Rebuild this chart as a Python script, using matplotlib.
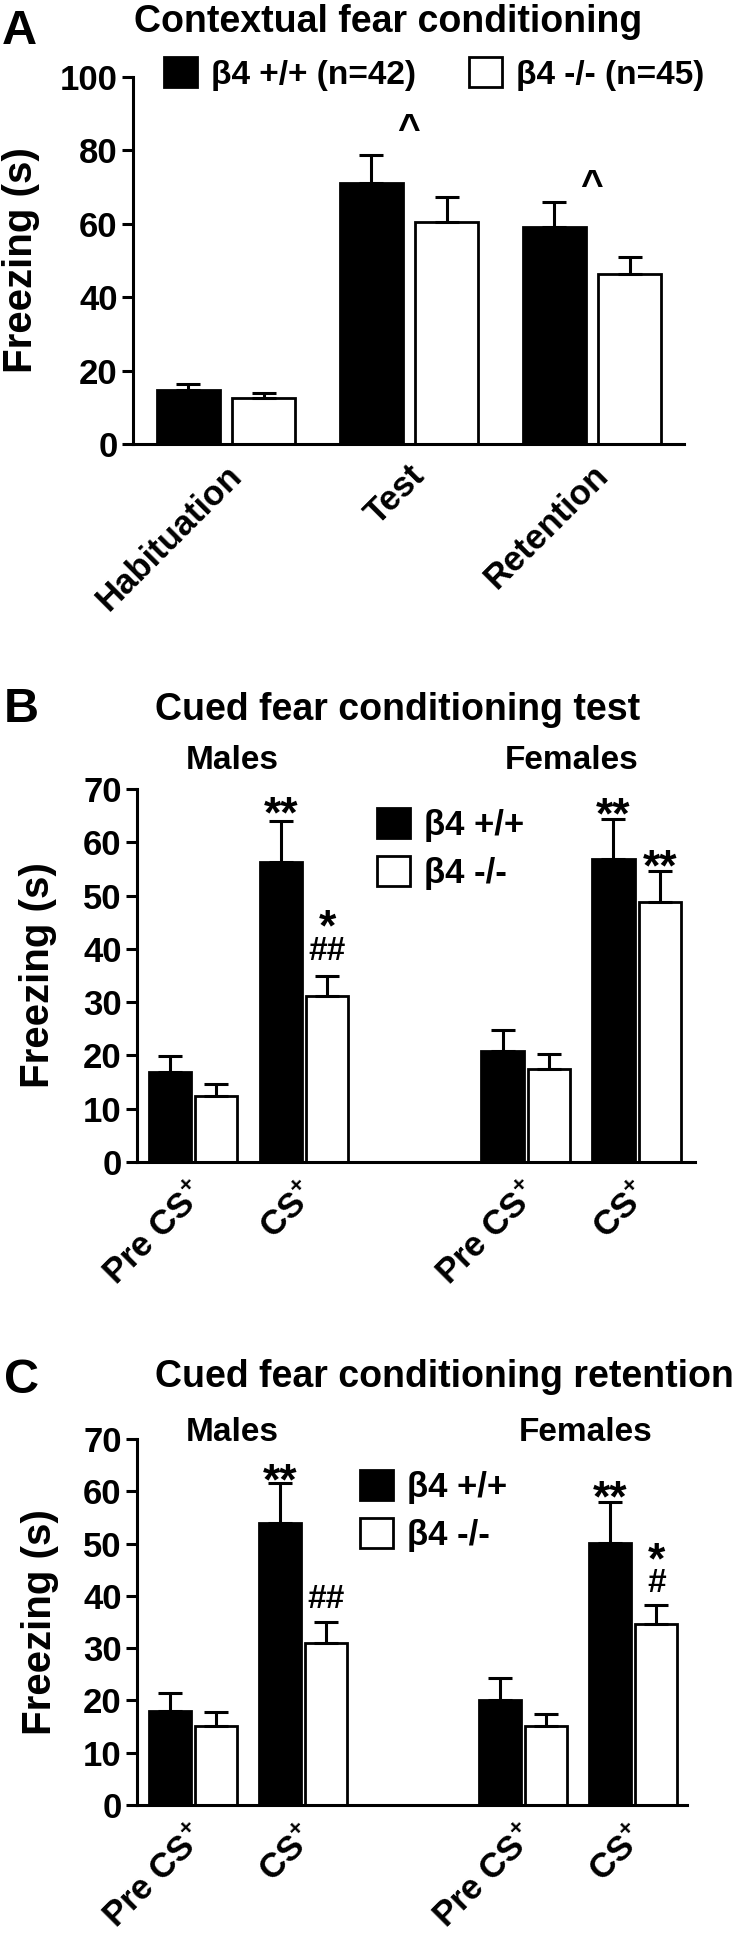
import numpy as np
import matplotlib
matplotlib.use("Agg")
import matplotlib.pyplot as plt
import matplotlib.transforms as mtransforms
from matplotlib.patches import Patch

# Arial-like bold text everywhere
plt.rcParams['font.family'] = ['Liberation Sans', 'DejaVu Sans']
plt.rcParams['font.weight'] = 'bold'
plt.rcParams['mathtext.fontset'] = 'custom'
plt.rcParams['mathtext.rm'] = 'Liberation Sans:bold'
plt.rcParams['mathtext.bf'] = 'Liberation Sans:bold'

# ---- data ----
# A: contextual fear conditioning
ctx_phases = ['Habituation', 'Test', 'Retention']
ctx_wt = [14.6, 71.1, 59.0]
ctx_wt_sem = [1.8, 7.7, 6.9]
ctx_ko = [12.5, 60.5, 46.3]
ctx_ko_sem = [1.5, 6.9, 4.7]
ctx_marks = [('^', 1, 88.0), ('^', 2, 72.8)]

# B / C: cued fear conditioning, Males (Pre CS+, CS+) and Females (Pre CS+, CS+)
cue_labels = [r'Pre CS$^{\mathbf{+}}$', r'CS$^{\mathbf{+}}$',
              r'Pre CS$^{\mathbf{+}}$', r'CS$^{\mathbf{+}}$']
cue_pos = [0, 1, 3, 4]

test_wt = [16.9, 56.3, 20.9, 56.8]
test_wt_sem = [2.9, 7.7, 3.9, 7.6]
test_ko = [12.4, 31.1, 17.4, 48.8]
test_ko_sem = [2.2, 3.8, 2.9, 5.9]
# (text, bar index, genotype, y)
test_marks = [('**', 1, 'wt', 67.7), ('*', 1, 'ko', 46.5), ('##', 1, 'ko', 40.1),
              ('**', 3, 'wt', 67.5), ('**', 3, 'ko', 57.8)]

ret_wt = [18.0, 53.9, 20.1, 50.2]
ret_wt_sem = [3.5, 7.6, 4.2, 7.7]
ret_ko = [15.1, 30.9, 15.2, 34.7]
ret_ko_sem = [2.7, 4.1, 2.2, 3.5]
ret_marks = [('**', 1, 'wt', 64.4), ('##', 1, 'ko', 40.0),
             ('**', 3, 'wt', 61.2), ('*', 3, 'ko', 49.3), ('#', 3, 'ko', 43.0)]

wt_label_a = 'β4 +/+ (n=42)'
ko_label_a = 'β4 -/- (n=45)'
wt_label = 'β4 +/+'
ko_label = 'β4 -/-'

W, H = 740, 1938
fig = plt.figure(figsize=(W / 100, H / 100), dpi=100)


def rect(l, t, r, b):
    return [l / W, 1 - b / H, (r - l) / W, (b - t) / H]


LW = 2.2


def style(ax, ymax, step):
    for s in ['top', 'right']:
        ax.spines[s].set_visible(False)
    for s in ['left', 'bottom']:
        ax.spines[s].set_linewidth(LW)
    ax.set_ylim(0, ymax)
    ax.set_yticks(np.arange(0, ymax + 1, step))
    ax.tick_params(axis='y', length=8, width=LW, pad=3, labelsize=25)
    ax.tick_params(axis='x', length=0, pad=19, labelsize=25)
    ax.set_ylabel('Freezing (s)', fontsize=29, fontweight='bold')


def shift_xlabels(ax, dx):
    off = mtransforms.ScaledTranslation(dx / 72, 0, fig.dpi_scale_trans)
    for t in ax.get_xticklabels():
        t.set_transform(t.get_transform() + off)


def mark(ax, x, y, s, size):
    # glyphs sit above the baseline: lower the baseline so the glyph is centred on y
    c = {'*': 0.585, '#': 0.35, '^': 0.52}[s[0]]
    lo, hi = ax.get_ylim()
    px_per_unit = ax.bbox.height / (hi - lo)
    base = y - c * size * fig.dpi / 72 / px_per_unit
    ax.text(x, base, s, ha='center', va='baseline', fontsize=size, fontweight='bold')


def bars(ax, pos, wt, wt_sem, ko, ko_sem, width, off):
    pos = np.asarray(pos, dtype=float)
    ekw = dict(elinewidth=LW, capthick=LW, capsize=8.5, ecolor='black')
    ax.bar(pos - off, wt, width, color='black', edgecolor='black', linewidth=2,
           yerr=[np.zeros(len(wt)), wt_sem], error_kw=ekw, zorder=2)
    ax.bar(pos + off, ko, width, color='white', edgecolor='black', linewidth=2,
           yerr=[np.zeros(len(ko)), ko_sem], error_kw=ekw, zorder=2)


def handles():
    return [Patch(facecolor='black', edgecolor='black', linewidth=2),
            Patch(facecolor='white', edgecolor='black', linewidth=2)]


# ---------- A ----------
axA = fig.add_axes(rect(133, 77, 684, 444))
style(axA, 100, 20)
bars(axA, range(3), ctx_wt, ctx_wt_sem, ctx_ko, ctx_ko_sem, 0.345, 0.206)
axA.set_xlim(-0.508, 2.503)
axA.set_xticks(range(3), ctx_phases, rotation=45, ha='right', va='center',
               rotation_mode='anchor')
shift_xlabels(axA, 8)
for s, i, y in ctx_marks:
    mark(axA, i, y, s, 28)
axA.yaxis.set_label_coords(-0.169, 0.5)
axA.legend(handles(), [wt_label_a, ko_label_a], ncol=2, loc='center left',
           bbox_to_anchor=(0.056, 1.008), frameon=False, fontsize=24,
           handlelength=1.0, handleheight=1.0, handletextpad=0.4,
           columnspacing=1.6, borderpad=0, borderaxespad=0)


# ---------- B and C ----------
def cued(ax, wt, wt_sem, ko, ko_sem, marks, xlim, legxy, ylab_x):
    style(ax, 70, 10)
    bars(ax, cue_pos, wt, wt_sem, ko, ko_sem, 0.38, 0.21)
    ax.set_xlim(*xlim)
    ax.set_xticks(cue_pos, cue_labels, rotation=45, ha='right', va='center',
                  rotation_mode='anchor')
    shift_xlabels(ax, 6)
    for s, i, g, y in marks:
        x = cue_pos[i] + (-0.21 if g == 'wt' else 0.21)
        size = 32 if s[0] == '*' else 24
        mark(ax, x, y, s, size)
    ax.yaxis.set_label_coords(ylab_x, 0.5)
    ax.legend(handles(), [wt_label, ko_label], loc='upper left', bbox_to_anchor=legxy,
              frameon=False, fontsize=25, handlelength=0.95, handleheight=0.95,
              handletextpad=0.4, labelspacing=0.4, borderpad=0, borderaxespad=0)


axB = fig.add_axes(rect(137, 789, 695, 1162))
cued(axB, test_wt, test_wt_sem, test_ko, test_ko_sem, test_marks,
     (-0.505, 4.525), (0.43, 0.949), -0.143)

axC = fig.add_axes(rect(137, 1439, 687, 1805))
cued(axC, ret_wt, ret_wt_sem, ret_ko, ret_ko_sem, ret_marks,
     (-0.51, 4.49), (0.405, 0.915), -0.142)


# ---------- panel letters, titles, sex labels ----------
def ftxt(x, y, s, size, ha='left'):
    fig.text(x / W, 1 - y / H, s, fontsize=size, fontweight='bold', ha=ha,
             va='baseline')


ftxt(2, 44, 'A', 35)
ftxt(4, 722, 'B', 35)
ftxt(4, 1393, 'C', 35)
ftxt(388, 32, 'Contextual fear conditioning', 27, 'center')
ftxt(398, 720, 'Cued fear conditioning test', 27, 'center')
ftxt(444, 1387, 'Cued fear conditioning retention', 27, 'center')
ftxt(232, 769, 'Males', 24, 'center')
ftxt(572, 769, 'Females', 24, 'center')
ftxt(232, 1441, 'Males', 24, 'center')
ftxt(586, 1441, 'Females', 24, 'center')

fig.savefig('out.png', dpi=100)
